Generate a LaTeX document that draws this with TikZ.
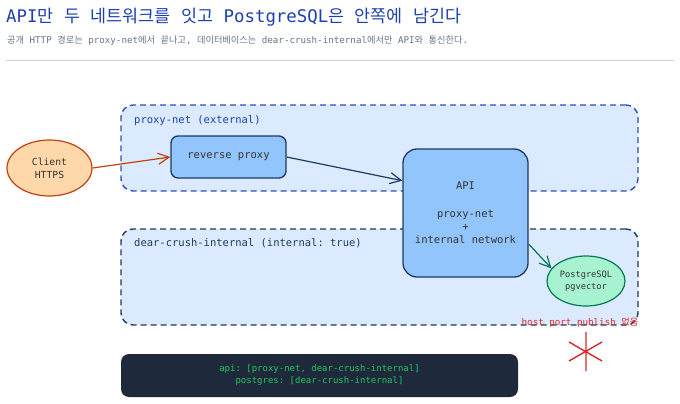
\documentclass[tikz,border=0pt]{standalone}
\usepackage{fontspec}
\setmonofont{DejaVu Sans Mono}
\newfontfamily\kr{Noto Sans CJK KR}
\newcommand{\hk}[1]{{\kr #1}}
\usetikzlibrary{positioning, arrows.meta, calc, shapes.geometric}
\definecolor{titleblue}{HTML}{1E40AF}
\definecolor{subgray}{HTML}{64748B}
\definecolor{rulegray}{HTML}{CBD5E1}
\definecolor{netfill}{HTML}{DBEAFE}
\definecolor{proxyline}{HTML}{2D4FBF}
\definecolor{innerline}{HTML}{1E3A5F}
\definecolor{clientfill}{HTML}{FED7AA}
\definecolor{clientline}{HTML}{C2410C}
\definecolor{boxfill}{HTML}{93C5FD}
\definecolor{boxline}{HTML}{1E3A5F}
\definecolor{pgfill}{HTML}{A7F3D0}
\definecolor{pgline}{HTML}{047857}
\definecolor{warnred}{HTML}{DC2626}
\definecolor{yamlbg}{HTML}{1E293B}
\definecolor{yamltext}{HTML}{22C55E}
\tikzset{
    netbox/.style={
        rounded corners=12pt,
        draw=#1, fill=netfill,
        line width=1.4pt, dash pattern=on 6pt off 4pt,
        inner sep=0pt,
    },
    netlabel/.style={
        anchor=west, inner sep=0pt,
        font=\ttfamily\fontsize{10.5}{13}\selectfont,
        text=#1,
    },
    service/.style={
        rounded corners=#1,
        draw=boxline, fill=boxfill,
        line width=1.3pt, inner sep=0pt,
        font=\ttfamily\fontsize{10.5}{13}\selectfont,
        text=black!80, align=center,
    },
    endpoint/.style={
        ellipse, draw=#1line, fill=#1fill,
        line width=1.2pt, inner sep=0pt,
        text=black!80, align=center,
    },
    flow/.style={
        -{Straight Barb[length=11pt, width=11pt]},
        line width=1.2pt, color=#1,
    },
}

\begin{document}
\begin{tikzpicture}[x=1pt, y=-1pt]
\useasboundingbox (0,0) rectangle (680,404);

% =============================================
% Header
% =============================================
\node[anchor=base west, inner sep=0pt, text=titleblue,
      font=\ttfamily\fontsize{17.4}{20}\selectfont] (title) at (6,23)
    {API\hk{만} \hk{두} \hk{네트워크를} \hk{잇고} PostgreSQL\hk{은} \hk{안쪽에} \hk{남긴다}};
\node[anchor=base west, inner sep=0pt, text=subgray,
      font=\ttfamily\fontsize{9.2}{11}\selectfont] (subtitle) at (7,44)
    {\hk{공개} HTTP \hk{경로는} proxy-net\hk{에서} \hk{끝나고}, \hk{데이터베이스는} dear-crush-internal\hk{에서만} API\hk{와} \hk{통신한다}.};
\coordinate (ruleL) at (6,61);
\coordinate (ruleR) at (674,61);
\draw[rulegray, line width=1pt] (ruleL) -- (ruleR);

% =============================================
% Networks
% =============================================
\node[netbox=proxyline, minimum width=517pt, minimum height=86pt] (proxynet) at (379.5,148) {};
\node[netbox=innerline, minimum width=517pt, minimum height=96pt] (internal) at (379.5,277) {};

\node[netlabel=titleblue] (proxylabel) at (134,121) {proxy-net (external)};
\node[netlabel=innerline] (internallabel) at (134,243) {dear-crush-internal (internal: true)};

% =============================================
% Services
% =============================================
\node[endpoint=client, minimum width=85pt, minimum height=56pt,
      font=\ttfamily\fontsize{9.7}{13}\selectfont] (client) at (49.5,168) {Client\\HTTPS};
\node[service=7pt, minimum width=115pt, minimum height=42pt] (rproxy) at (228.5,157) {reverse proxy};
\node[service=14pt, minimum width=125pt, minimum height=128pt] (api) at (465.5,213)
    {API\\[15pt]proxy-net\\+\\internal network};
\node[endpoint=pg, minimum width=78pt, minimum height=50pt,
      font=\ttfamily\fontsize{8.7}{12}\selectfont] (pg) at (586,281) {PostgreSQL\\pgvector};

\node[text=warnred, inner sep=0pt, font=\ttfamily\fontsize{9.2}{11}\selectfont] (nopubnote) at (580,323)
    {host port publish \hk{없음}};

% no publish mark
\coordinate (nopub) at (586,352);
\draw[warnred, line width=1.4pt]
    ($(nopub)+(0,-20)$) -- ($(nopub)+(0,19)$)
    ($(nopub)+(-17,-10)$) -- ($(nopub)+(16,9)$)
    ($(nopub)+(-17,9)$) -- ($(nopub)+(16,-10)$);

% =============================================
% Arrows
% =============================================
\draw[flow=clientline] (client.east) -- (rproxy.west);
\draw[flow=boxline] (rproxy.east) -- ($(api.north west)!0.25!(api.south west)$);
\draw[flow=pgline] ($(api.north east)!0.74!(api.south east)$) -- (pg.160);

% =============================================
% Compose networks
% =============================================
\node[fill=yamlbg, rounded corners=8pt, minimum width=397pt, minimum height=43pt,
      text=yamltext, align=center, font=\ttfamily\fontsize{9}{12}\selectfont] (yaml) at (319.5,375.5)
    {api: [proxy-net, dear-crush-internal]\\postgres: [dear-crush-internal]};

\end{tikzpicture}
\end{document}
